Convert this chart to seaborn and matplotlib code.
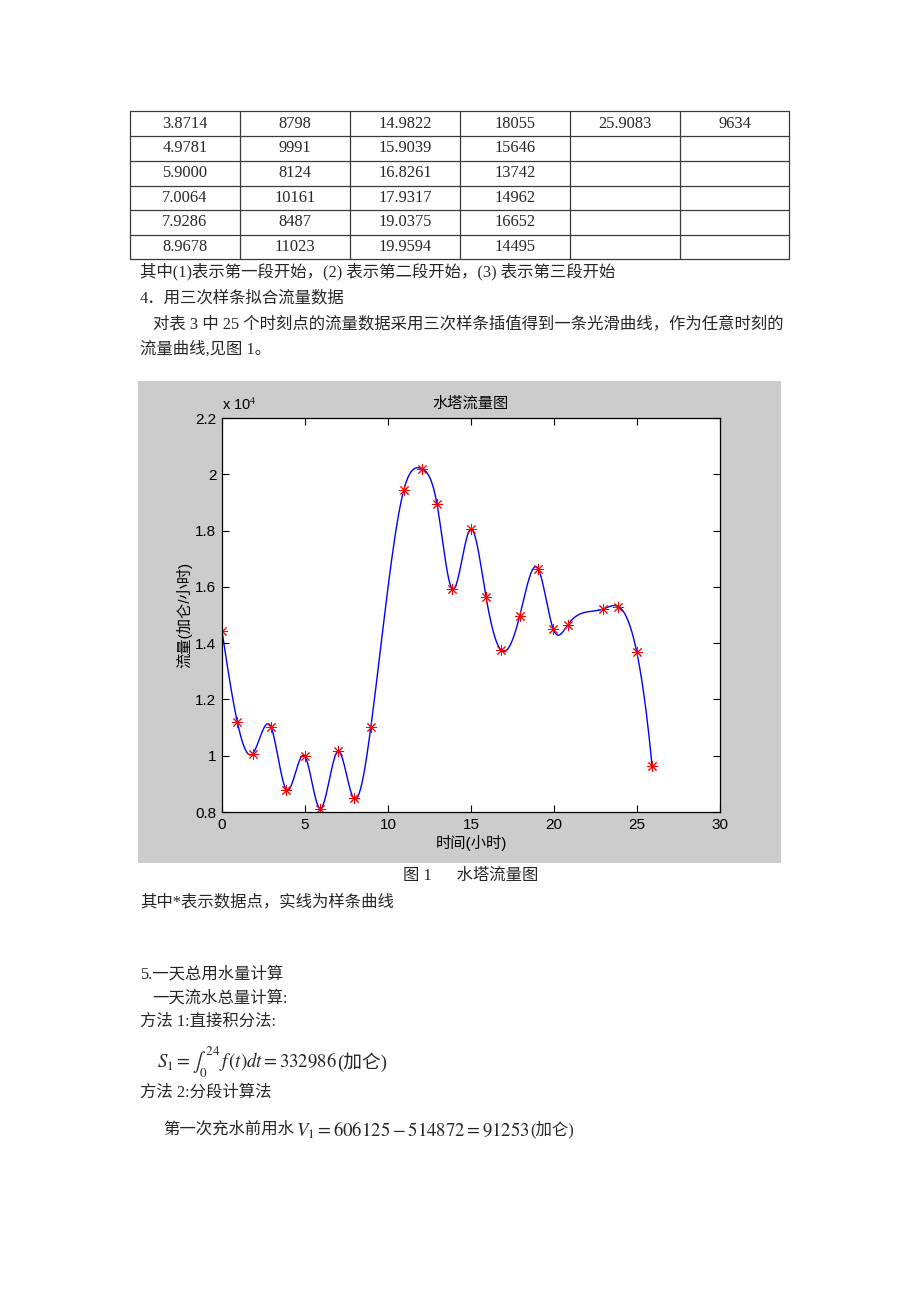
import numpy as np
import pandas as pd
import matplotlib
matplotlib.use("Agg")
import matplotlib.pyplot as plt
import seaborn as sns
from matplotlib.patches import Rectangle
from matplotlib.lines import Line2D

# ---------------- data ----------------
table_rows = [
    ["3.8714", "8798", "14.9822", "18055", "25.9083", "9634"],
    ["4.9781", "9991", "15.9039", "15646", "", ""],
    ["5.9000", "8124", "16.8261", "13742", "", ""],
    ["7.0064", "10161", "17.9317", "14962", "", ""],
    ["7.9286", "8487", "19.0375", "16652", "", ""],
    ["8.9678", "11023", "19.9594", "14495", "", ""],
]

time_h = [0.0, 0.9211, 1.8431, 2.9497, 3.8714, 4.9781, 5.9000, 7.0064, 7.9286,
          8.9678, 10.9544, 12.0328, 12.9544, 13.8758, 14.9822, 15.9039, 16.8261,
          17.9317, 19.0375, 19.9594, 20.8392, 22.9581, 23.8800, 24.9869, 25.9083]
flow = [14430, 11200, 10070, 11020, 8798, 9991, 8124, 10161, 8487,
        11023, 19450, 20200, 18930, 15920, 18055, 15646, 13742,
        14962, 16652, 14495, 14660, 15210, 15300, 13680, 9634]

chart_title = "水塔流量图"
x_label = "时间(小时)"
y_label = "流量(加仑/小时)"
x_ticks = [0, 5, 10, 15, 20, 25, 30]
y_ticks = [0.8, 1.0, 1.2, 1.4, 1.6, 1.8, 2.0, 2.2]
y_tick_labels = ["0.8", "1", "1.2", "1.4", "1.6", "1.8", "2", "2.2"]

body_top = [
    "其中(1)表示第一段开始，(2) 表示第二段开始，(3) 表示第三段开始",
    "4．用三次样条拟合流量数据",
    "对表 3 中 25 个时刻点的流量数据采用三次样条插值得到一条光滑曲线，作为任意时刻的",
    "流量曲线,见图 1。",
]
caption = "图 1      水塔流量图"
body_bottom = [
    "其中*表示数据点，实线为样条曲线",
    "5.一天总用水量计算",
    "一天流水总量计算:",
    "方法 1:直接积分法:",
    "方法 2:分段计算法",
]

# ---------------- style ----------------
sns.set_theme(style="white")
plt.rcParams["font.family"] = ["Liberation Serif", "Noto Sans CJK SC"]
plt.rcParams["mathtext.fontset"] = "stix"
SANS = ["Liberation Sans", "Noto Sans CJK SC"]

W, H = 920, 1302
fig = plt.figure(figsize=(W / 100, H / 100), dpi=100)
fig.patch.set_facecolor("white")


def fx(x):
    return x / W


def fy(y):
    return 1 - y / H


BODY = 11.8

# ---------------- table ----------------
row_lines = [111, 136, 161, 185.5, 210, 235, 259]
col_lines = [130, 240, 350, 460, 570, 680, 789]
for yy in row_lines:
    fig.add_artist(Line2D([fx(130), fx(789)], [fy(yy), fy(yy)],
                          transform=fig.transFigure, color="#3a3a3a", lw=0.9))
for xx in col_lines:
    fig.add_artist(Line2D([fx(xx), fx(xx)], [fy(111), fy(259)],
                          transform=fig.transFigure, color="#3a3a3a", lw=0.9))
for r, row in enumerate(table_rows):
    yc = (row_lines[r] + row_lines[r + 1]) / 2
    for c, val in enumerate(row):
        if val:
            xc = (col_lines[c] + col_lines[c + 1]) / 2
            fig.text(fx(xc), fy(yc), val, ha="center", va="center", fontsize=BODY)

# ---------------- body text ----------------
top_pos = [(140, 271.5), (140, 298), (153, 324), (140, 349.5)]
for s, (x, y) in zip(body_top, top_pos):
    fig.text(fx(x), fy(y), s, ha="left", va="center", fontsize=BODY)

fig.text(fx(403), fy(876), caption, ha="left", va="center", fontsize=BODY)
bot_pos = [(140, 902), (140, 975), (152, 998), (140, 1022), (140, 1093)]
for s, (x, y) in zip(body_bottom, bot_pos):
    fig.text(fx(x), fy(y), s, ha="left", va="center", fontsize=BODY)

# formulas
renderer = fig.canvas.get_renderer()
FS = 13.5
t1 = fig.text(fx(157), fy(1062), r"$S_1=\int_0^{24}\,f\,(t)dt=332986$",
              ha="left", va="center", fontsize=FS)
bb = t1.get_window_extent(renderer)
fig.text(bb.x1 / W, fy(1062), "(加仑)", ha="left", va="center", fontsize=FS)

t2 = fig.text(fx(163), fy(1130), "第一次充水前用水", ha="left", va="center", fontsize=BODY)
bb = t2.get_window_extent(renderer)
t3 = fig.text(bb.x1 / W + 2 / W, fy(1130), r"$V_1=606125-514872=91253$",
              ha="left", va="center", fontsize=FS)
bb = t3.get_window_extent(renderer)
fig.text(bb.x1 / W, fy(1130), "(加仑)", ha="left", va="center", fontsize=BODY)

# ---------------- chart panel ----------------
fig.add_artist(Rectangle((fx(138), fy(863)), (781 - 138) / W, (863 - 381) / H,
                         transform=fig.transFigure, facecolor="#cccccc",
                         edgecolor="none", zorder=-1))

ax = fig.add_axes([222 / W, 1 - 812 / H, 498 / W, 394 / H])
ax.set_facecolor("white")


# not-a-knot cubic spline through the data (as MATLAB spline)
def spline_eval(x, y, xq):
    x = np.asarray(x, float)
    y = np.asarray(y, float)
    n = len(x)
    h = np.diff(x)
    d = np.diff(y) / h
    A = np.zeros((n, n))
    b = np.zeros(n)
    A[0, 0], A[0, 1], A[0, 2] = h[1], -(h[0] + h[1]), h[0]
    A[-1, -3], A[-1, -2], A[-1, -1] = h[-1], -(h[-2] + h[-1]), h[-2]
    for i in range(1, n - 1):
        A[i, i - 1] = h[i - 1]
        A[i, i] = 2 * (h[i - 1] + h[i])
        A[i, i + 1] = h[i]
        b[i] = 6 * (d[i] - d[i - 1])
    M = np.linalg.solve(A, b)
    idx = np.clip(np.searchsorted(x, xq) - 1, 0, n - 2)
    x0, x1 = x[idx], x[idx + 1]
    hh = x1 - x0
    return (M[idx] * (x1 - xq) ** 3 / (6 * hh) + M[idx + 1] * (xq - x0) ** 3 / (6 * hh)
            + (y[idx] / hh - M[idx] * hh / 6) * (x1 - xq)
            + (y[idx + 1] / hh - M[idx + 1] * hh / 6) * (xq - x0))


tq = np.linspace(time_h[0], time_h[-1], 600)
curve = pd.DataFrame({"t": tq, "q": spline_eval(time_h, flow, tq) / 1e4})
pts = pd.DataFrame({"t": time_h, "q": np.asarray(flow) / 1e4})

sns.lineplot(data=curve, x="t", y="q", color="#0000ff", lw=1.0, ax=ax,
             estimator=None, sort=False)
sns.lineplot(data=pts, x="t", y="q", ax=ax, estimator=None, sort=False,
             linestyle="", marker=(8, 2, 0), markersize=8, color="#ff0000",
             markeredgecolor="#ff0000", markeredgewidth=0.7)

ax.set_xlim(0, 30)
ax.set_ylim(0.8, 2.2)
ax.set_xticks(x_ticks)
ax.set_xticklabels([str(v) for v in x_ticks])
ax.set_yticks(y_ticks)
ax.set_yticklabels(y_tick_labels)
for lab in ax.get_xticklabels() + ax.get_yticklabels():
    lab.set_family(SANS)
    lab.set_fontsize(11)
    lab.set_color("black")
ax.tick_params(direction="in", length=5, width=0.8, color="black",
               top=True, right=True, bottom=True, left=True, pad=4)
for sp in ax.spines.values():
    sp.set_visible(True)
    sp.set_color("black")
    sp.set_linewidth(0.9)

ax.set_title(chart_title, family=SANS, fontsize=11, pad=7, color="black")
ax.set_xlabel(x_label, family=SANS, fontsize=11, va="center", color="black")
ax.set_ylabel(y_label, family=SANS, fontsize=11, va="center", color="black")
ax.xaxis.set_label_coords(0.5, -(843 - 812) / 394)
ax.yaxis.set_label_coords(-(222 - 184) / 498, 0.5)
ax.text(0.0, 1.0 + (418 - 405) / 394, r"x 10$^{4}$", transform=ax.transAxes,
        ha="left", va="center", family=SANS, fontsize=10.5, color="black")

fig.savefig("out.png", dpi=100, facecolor="white")
